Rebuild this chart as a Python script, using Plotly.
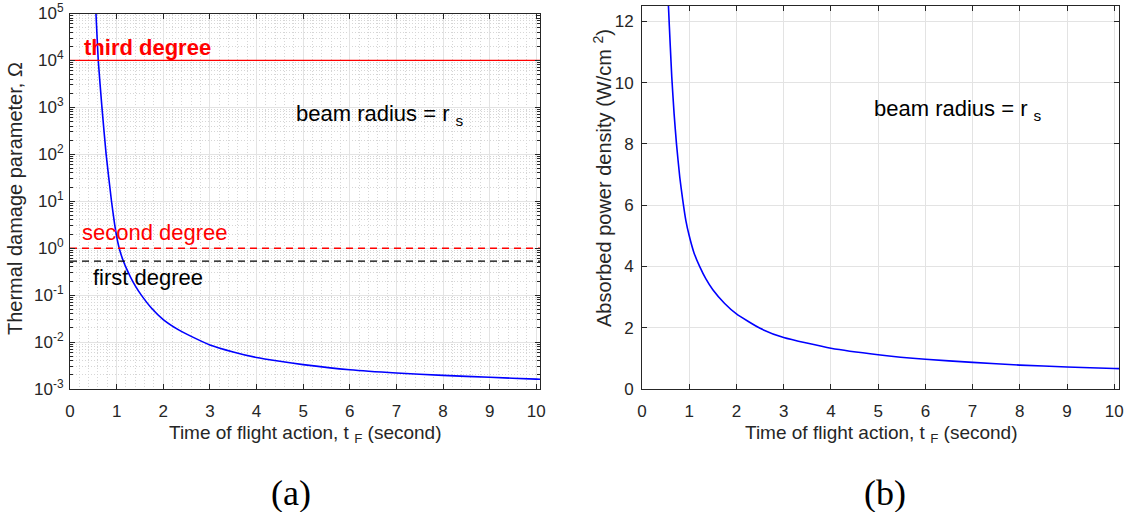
import plotly.graph_objects as go

# ---- data ----
t_omega = [0.54, 0.557, 0.606, 0.685, 0.775, 0.89, 0.96, 1.0, 1.05, 1.1, 1.15, 1.2, 1.3, 1.4,
           1.53, 1.75, 2.0, 2.33, 2.6, 3.0, 3.5, 4.0, 4.5, 5.0, 6.0, 7.0, 8.0, 9.0, 10.0, 10.08]
omega = [2.5e5, 1e5, 1e4, 1e3, 1e2, 10.0, 3.09, 1.78, 1.047, 0.708, 0.513, 0.389, 0.24, 0.158,
         0.1, 0.0525, 0.0302, 0.0182, 0.0132, 0.0087, 0.00617, 0.00468, 0.00389, 0.00331,
         0.00257, 0.00219, 0.00195, 0.00178, 0.00162, 0.00161]

t_power = [0.5, 0.56, 0.6, 0.63, 0.68, 0.73, 0.8, 0.86, 0.93, 1.0, 1.1, 1.22, 1.35, 1.5, 1.75,
           2.0, 2.5, 3.0, 4.0, 5.0, 6.0, 7.0, 8.0, 9.0, 10.0, 10.1]
power = [15.3, 12.5, 11.15, 10.2, 8.98, 8.0, 6.91, 6.2, 5.49, 5.0, 4.45, 4.0, 3.6, 3.24, 2.79,
         2.45, 1.98, 1.68, 1.33, 1.12, 0.97, 0.87, 0.78, 0.72, 0.67, 0.665]

thresholds = [1e4, 1.0, 0.53]          # third, second, first degree
threshold_labels = ["third degree", "second degree", "first degree"]

x_ticks = list(range(0, 11))
log_tickvals = [1e-3, 1e-2, 1e-1, 1e0, 1e1, 1e2, 1e3, 1e4, 1e5]
log_ticktext = ["10<sup>-3</sup>", "10<sup>-2</sup>", "10<sup>-1</sup>", "10<sup>0</sup>",
                "10<sup>1</sup>", "10<sup>2</sup>", "10<sup>3</sup>", "10<sup>4</sup>", "10<sup>5</sup>"]
lin_ticks = [0, 2, 4, 6, 8, 10, 12]

W, H = 1130, 512
AX = "#262626"
GRID = "#e3e3e3"
MINOR = "#d6d6d6"
FONT = "Liberation Sans, Arial, sans-serif"
SERIF = "Liberation Serif, DejaVu Serif, serif"

fig = go.Figure()

# left panel
fig.add_trace(go.Scatter(x=t_omega, y=omega, mode="lines",
                         line=dict(color="#0000ff", width=1.6, shape="spline", smoothing=0.5),
                         xaxis="x", yaxis="y", showlegend=False))
fig.add_trace(go.Scatter(x=[0, 10.08], y=[thresholds[0]] * 2, mode="lines",
                         line=dict(color="#ff0000", width=1.3), xaxis="x", yaxis="y", showlegend=False))
fig.add_trace(go.Scatter(x=[0, 10.08], y=[thresholds[1]] * 2, mode="lines",
                         line=dict(color="#ff0000", width=1.4, dash="7px,5px"), xaxis="x", yaxis="y", showlegend=False))
fig.add_trace(go.Scatter(x=[0, 10.08], y=[thresholds[2]] * 2, mode="lines",
                         line=dict(color="#000000", width=1.3, dash="7px,5px"), xaxis="x", yaxis="y", showlegend=False))

# right panel
fig.add_trace(go.Scatter(x=t_power, y=power, mode="lines",
                         line=dict(color="#0000ff", width=1.6, shape="spline", smoothing=0.5),
                         xaxis="x2", yaxis="y2", showlegend=False))

common_axis = dict(showline=True, linecolor=AX, linewidth=1, mirror="ticks", ticks="inside",
                   tickcolor=AX, ticklen=5, tickwidth=1, tickfont=dict(family=FONT, size=17, color=AX),
                   gridcolor=GRID, gridwidth=1, zeroline=False, automargin=False)

L0, L1 = 70 / W, 540 / W
R0, R1 = 642 / W, 1119 / W
B = 1 - 389 / H
TL = 1 - 13.5 / H
TR = 1 - 6 / H

fig.update_layout(
    width=W, height=H, margin=dict(l=0, r=0, t=0, b=0, autoexpand=False),
    paper_bgcolor="white", plot_bgcolor="white",
    font=dict(family=FONT, color=AX),
    xaxis=dict(common_axis, domain=[L0, L1], range=[0, 10.08], tickvals=x_ticks, anchor="y",
               ticklabelstandoff=7,
               minor=dict(dtick=0.2, tick0=0, showgrid=True, griddash="1px,2px", gridcolor=MINOR, ticklen=0)),
    yaxis=dict(common_axis, domain=[B, TL], type="log", range=[-3, 5], tickvals=log_tickvals,
               ticktext=log_ticktext, anchor="x", ticklabelstandoff=2,
               minor=dict(dtick="D1", showgrid=True, griddash="1px,2px", gridcolor=MINOR, ticklen=3, ticks="inside",
                          tickcolor=AX)),
    xaxis2=dict(common_axis, domain=[R0, R1], range=[0, 10.1], tickvals=x_ticks, anchor="y2",
                ticklabelstandoff=7),
    yaxis2=dict(common_axis, domain=[B, TR], range=[0, 12.5], tickvals=lin_ticks, anchor="x2",
                ticklabelstandoff=4),
)

ann = []
# threshold labels
ann.append(dict(x=0.26, y=4.27, xref="x", yref="y", text="<b>" + threshold_labels[0] + "</b>", showarrow=False,
                xanchor="left", yanchor="middle", font=dict(family=FONT, size=22, color="#ff0000")))
ann.append(dict(x=0.22, y=0.33, xref="x", yref="y", text=threshold_labels[1], showarrow=False,
                xanchor="left", yanchor="middle", font=dict(family=FONT, size=22, color="#ff0000")))
ann.append(dict(x=0.44, y=-0.62, xref="x", yref="y", text=threshold_labels[2], showarrow=False,
                xanchor="left", yanchor="middle", font=dict(family=FONT, size=22, color="#000000")))
ann.append(dict(x=4.81, y=2.84, xref="x", yref="y", text="beam radius = r <sub>s</sub>", showarrow=False,
                xanchor="left", yanchor="middle", font=dict(family=FONT, size=22, color="#000000")))
ann.append(dict(x=4.87, y=9.12, xref="x2", yref="y2", text="beam radius = r <sub>s</sub>", showarrow=False,
                xanchor="left", yanchor="middle", font=dict(family=FONT, size=22, color="#000000")))

# axis titles
ann.append(dict(x=(70 + 540) / 2 / W, y=1 - 434 / H, xref="paper", yref="paper",
                text="Time of flight action, t <sub>F</sub> (second)", showarrow=False,
                xanchor="center", yanchor="middle", font=dict(family=FONT, size=19, color=AX)))
ann.append(dict(x=(642 + 1119) / 2 / W, y=1 - 434 / H, xref="paper", yref="paper",
                text="Time of flight action, t <sub>F</sub> (second)", showarrow=False,
                xanchor="center", yanchor="middle", font=dict(family=FONT, size=19, color=AX)))
ann.append(dict(x=15 / W, y=1 - 199 / H, xref="paper", yref="paper",
                text="Thermal damage parameter, Ω", showarrow=False, textangle=-90,
                xanchor="center", yanchor="middle", font=dict(family=FONT, size=20, color=AX)))
ann.append(dict(x=602 / W, y=1 - 178 / H, xref="paper", yref="paper",
                text="Absorbed power density (W/cm <sup>2</sup>)", showarrow=False, textangle=-90,
                xanchor="center", yanchor="middle", font=dict(family=FONT, size=20, color=AX)))

# captions
ann.append(dict(x=291 / W, y=1 - 493 / H, xref="paper", yref="paper", text="(a)", showarrow=False,
                xanchor="center", yanchor="middle", font=dict(family=SERIF, size=36, color="#000000")))
ann.append(dict(x=885 / W, y=1 - 493 / H, xref="paper", yref="paper", text="(b)", showarrow=False,
                xanchor="center", yanchor="middle", font=dict(family=SERIF, size=36, color="#000000")))

fig.update_layout(annotations=ann)

fig.write_html("out.html")
